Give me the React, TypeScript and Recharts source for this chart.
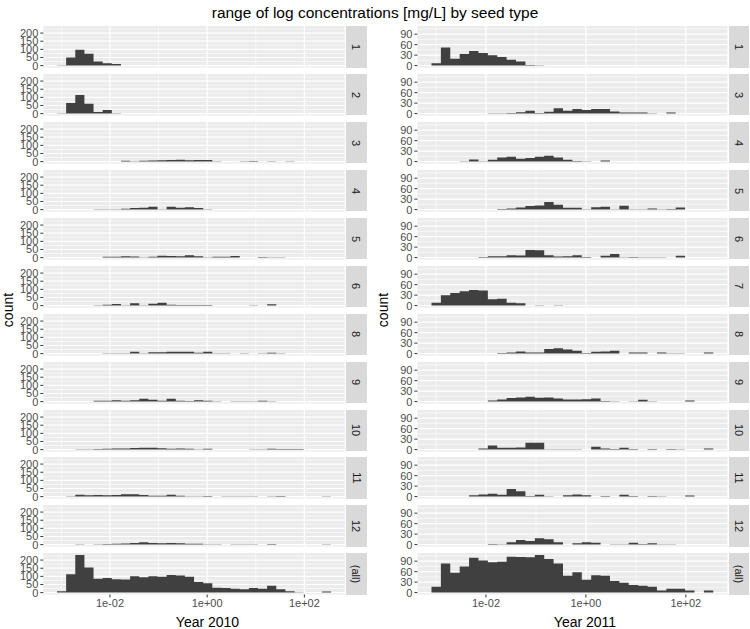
import { AreaChart, Area, XAxis, YAxis, CartesianGrid } from 'recharts';

// histogram bins on log10(mg/L): 30 bins, same for both years
const BIN_START = -3.09;
const BIN_WIDTH = 0.188;
const N_BINS = 30;

const X_MAJOR = [-2, 0, 2];
const X_MINOR = [-3, -1, 1];

// 2010 counts per seed type (bin 0 .. 29)
const C2010_1 = [2, 50, 98, 73, 25, 15, 10, 1, 0, 0, 0, 0, 0, 0, 0, 0, 0, 0, 0, 0, 0, 0, 0, 0, 0, 0, 0, 0, 0, 0];
const C2010_2 = [3, 65, 115, 60, 10, 22, 2, 0, 0, 0, 0, 0, 0, 0, 0, 0, 0, 0, 0, 0, 0, 0, 0, 0, 0, 0, 0, 0, 0, 0];
const C2010_3 = [0, 0, 0, 1, 1, 0, 1, 5, 3, 5, 7, 8, 10, 12, 8, 10, 10, 2, 1, 1, 2, 4, 1, 2, 1, 3, 0, 0, 0, 0];
const C2010_4 = [0, 0, 0, 0, 2, 2, 2, 5, 10, 12, 18, 3, 18, 12, 15, 10, 3, 1, 1, 0, 0, 0, 0, 0, 0, 0, 0, 0, 0, 0];
const C2010_5 = [0, 0, 0, 1, 1, 5, 5, 8, 7, 3, 5, 12, 10, 8, 15, 8, 3, 5, 6, 10, 1, 0, 4, 3, 3, 1, 0, 0, 0, 0];
const C2010_6 = [0, 0, 0, 1, 2, 5, 10, 3, 15, 3, 12, 18, 5, 4, 4, 4, 4, 0, 1, 0, 0, 3, 0, 8, 0, 0, 0, 0, 0, 0];
const C2010_8 = [0, 0, 0, 0, 1, 2, 3, 3, 12, 3, 8, 8, 12, 12, 12, 5, 12, 3, 2, 0, 2, 0, 3, 5, 2, 0, 0, 0, 0, 0];
const C2010_9 = [0, 0, 0, 1, 6, 5, 8, 5, 8, 18, 12, 6, 18, 6, 4, 8, 5, 2, 0, 2, 2, 2, 5, 2, 0, 0, 0, 0, 0, 0];
const C2010_10 = [1, 0, 3, 3, 4, 5, 7, 7, 10, 12, 12, 8, 5, 7, 5, 3, 5, 0, 1, 1, 1, 3, 2, 5, 4, 4, 4, 0, 0, 0];
const C2010_11 = [0, 2, 12, 8, 10, 8, 10, 15, 15, 10, 5, 5, 12, 5, 2, 3, 4, 0, 3, 3, 3, 3, 0, 3, 4, 0, 0, 0, 0, 3];
const C2010_12 = [0, 0, 2, 0, 2, 4, 5, 7, 10, 14, 10, 9, 10, 8, 6, 5, 2, 2, 0, 3, 2, 2, 0, 4, 0, 0, 0, 0, 0, 2];
const C2010_ALL = [8, 113, 232, 155, 85, 90, 82, 80, 100, 95, 100, 98, 108, 105, 98, 65, 58, 30, 28, 24, 20, 28, 24, 42, 20, 8, 2, 0, 0, 7];

// 2011 counts per seed type
const C2011_1 = [7, 52, 20, 33, 42, 36, 30, 25, 17, 12, 2, 1, 0, 0, 0, 0, 0, 0, 0, 0, 0, 0, 0, 0, 0, 0, 0, 0, 0, 0];
const C2011_3 = [0, 0, 0, 0, 0, 0, 1, 1, 2, 4, 8, 2, 5, 15, 8, 13, 10, 13, 13, 6, 3, 3, 3, 1, 0, 3, 0, 0, 0, 0];
const C2011_4 = [0, 0, 0, 1, 6, 1, 5, 12, 14, 8, 10, 14, 17, 12, 5, 2, 1, 0, 3, 0, 0, 0, 0, 0, 0, 0, 0, 0, 0, 0];
const C2011_5 = [0, 0, 0, 0, 0, 0, 0, 2, 3, 6, 10, 12, 22, 14, 5, 5, 1, 7, 8, 1, 11, 1, 1, 3, 1, 2, 6, 0, 0, 0];
const C2011_6 = [0, 0, 0, 0, 0, 2, 4, 4, 7, 6, 22, 21, 7, 3, 4, 7, 2, 0, 5, 10, 1, 2, 1, 1, 1, 0, 5, 0, 0, 0];
const C2011_7 = [8, 30, 36, 41, 45, 43, 18, 20, 8, 7, 0, 1, 0, 1, 0, 0, 0, 0, 0, 0, 0, 0, 0, 0, 0, 0, 0, 0, 0, 0];
const C2011_8 = [0, 0, 0, 0, 0, 0, 0, 2, 3, 6, 3, 3, 13, 15, 12, 8, 2, 5, 6, 8, 0, 3, 3, 0, 3, 1, 1, 0, 0, 3];
const C2011_9 = [0, 0, 0, 0, 0, 0, 3, 6, 10, 12, 14, 11, 12, 9, 6, 6, 7, 9, 2, 1, 0, 1, 5, 1, 0, 0, 0, 3, 0, 0];
const C2011_10 = [0, 0, 0, 0, 0, 3, 12, 5, 5, 6, 20, 20, 1, 1, 1, 1, 0, 8, 3, 2, 5, 2, 0, 2, 0, 2, 1, 0, 0, 3];
const C2011_11 = [0, 0, 0, 0, 4, 6, 8, 5, 22, 15, 2, 5, 1, 0, 4, 6, 4, 0, 2, 0, 5, 2, 0, 2, 1, 0, 0, 3, 0, 0];
const C2011_12 = [0, 0, 0, 0, 0, 0, 2, 1, 7, 13, 10, 18, 15, 7, 0, 4, 7, 5, 0, 1, 1, 5, 2, 4, 1, 1, 0, 0, 0, 0];
const C2011_ALL = [17, 83, 57, 75, 100, 92, 87, 88, 103, 102, 101, 108, 96, 83, 48, 58, 37, 50, 48, 33, 28, 22, 20, 17, 6, 11, 11, 6, 0, 6];

const PANELS_2010 = [
  { seed: '1', counts: C2010_1 },
  { seed: '2', counts: C2010_2 },
  { seed: '3', counts: C2010_3 },
  { seed: '4', counts: C2010_4 },
  { seed: '5', counts: C2010_5 },
  { seed: '6', counts: C2010_6 },
  { seed: '8', counts: C2010_8 },
  { seed: '9', counts: C2010_9 },
  { seed: '10', counts: C2010_10 },
  { seed: '11', counts: C2010_11 },
  { seed: '12', counts: C2010_12 },
  { seed: '(all)', counts: C2010_ALL },
];

const PANELS_2011 = [
  { seed: '1', counts: C2011_1 },
  { seed: '3', counts: C2011_3 },
  { seed: '4', counts: C2011_4 },
  { seed: '5', counts: C2011_5 },
  { seed: '6', counts: C2011_6 },
  { seed: '7', counts: C2011_7 },
  { seed: '8', counts: C2011_8 },
  { seed: '9', counts: C2011_9 },
  { seed: '10', counts: C2011_10 },
  { seed: '11', counts: C2011_11 },
  { seed: '12', counts: C2011_12 },
  { seed: '(all)', counts: C2011_ALL },
];

const Y_MAJOR_2010 = [0, 50, 100, 150, 200];
const Y_MINOR_2010 = [25, 75, 125, 175, 225];
const Y_MAJOR_2011 = [0, 30, 60, 90];
const Y_MINOR_2011 = [15, 45, 75, 105];

const FONT = '"Liberation Sans", Arial, Helvetica, sans-serif';
const PANEL_TOP = 26;
const PANEL_STEP = 47.94;
const PANEL_H = 41.5;
const X_AXIS_H = 18;
const TICK_FONT = 11;

const BIN_EDGES = Array.from({ length: N_BINS + 1 }, (_, i) => BIN_START + i * BIN_WIDTH);
const X_SPAN = N_BINS * BIN_WIDTH;
const X_DOMAIN = [BIN_START - 0.05 * X_SPAN, BIN_START + 1.05 * X_SPAN];

const fmtLog = (v: number) => `1e${v < 0 ? '-' : '+'}${String(Math.abs(v)).padStart(2, '0')}`;

function Panel({ counts, yMax, yMajor, yMinor, showX, yAxisW, plotW }: any) {
  const data = BIN_EDGES.map((x, i) => ({ x, n: counts[Math.min(i, counts.length - 1)] }));
  return (
    <AreaChart
      width={yAxisW + plotW}
      height={PANEL_H + (showX ? X_AXIS_H : 0)}
      data={data}
      margin={{ top: 0, right: 0, bottom: 0, left: 0 }}
      style={{ overflow: 'visible' }}
    >
      <CartesianGrid fill="#EBEBEB" stroke="#FFFFFF" strokeWidth={0.6} horizontalValues={yMinor} verticalValues={X_MINOR} />
      <CartesianGrid stroke="#FFFFFF" strokeWidth={1.2} horizontalValues={yMajor} verticalValues={X_MAJOR} />
      <XAxis
        type="number"
        dataKey="x"
        domain={X_DOMAIN}
        ticks={X_MAJOR}
        tickFormatter={fmtLog}
        hide={!showX}
        height={X_AXIS_H}
        axisLine={false}
        tickSize={3}
        tickMargin={2}
        tickLine={{ stroke: '#333333' }}
        tick={{ fill: '#4D4D4D', fontSize: TICK_FONT, fontFamily: FONT }}
      />
      <YAxis
        type="number"
        domain={[-0.05 * yMax, 1.05 * yMax]}
        ticks={yMajor}
        width={yAxisW}
        axisLine={false}
        tickSize={3}
        tickMargin={2}
        tickLine={{ stroke: '#333333' }}
        tick={{ fill: '#4D4D4D', fontSize: TICK_FONT, fontFamily: FONT }}
        interval={0}
      />
      <Area
        type="stepAfter"
        dataKey="n"
        baseValue={0}
        fill="#404040"
        fillOpacity={1}
        stroke="none"
        isAnimationActive={false}
        dot={false}
        activeDot={false}
      />
    </AreaChart>
  );
}

function Column({ panels, left, yAxisW, plotW, stripX, stripW, yMajor, yMinor, title, titleX, labelX }: any) {
  const yMax = Math.max(...panels.map((p: any) => Math.max(...p.counts)));
  return (
    <>
      {panels.map((p: any, i: number) => {
        const top = PANEL_TOP + i * PANEL_STEP;
        return (
          <div key={p.seed}>
            <div style={{ position: 'absolute', left, top }}>
              <Panel
                counts={p.counts}
                yMax={yMax}
                yMajor={yMajor}
                yMinor={yMinor}
                showX={i === panels.length - 1}
                yAxisW={yAxisW}
                plotW={plotW}
              />
            </div>
            <div
              style={{
                position: 'absolute',
                left: stripX,
                top,
                width: stripW,
                height: PANEL_H,
                background: '#D9D9D9',
                display: 'flex',
                alignItems: 'center',
                justifyContent: 'center',
              }}
            >
              <span style={{ transform: 'rotate(90deg)', whiteSpace: 'nowrap', fontSize: 11, color: '#1A1A1A' }}>
                {p.seed}
              </span>
            </div>
          </div>
        );
      })}
      <div style={{ position: 'absolute', left: titleX - 60, width: 120, top: 614, textAlign: 'center', fontSize: 14 }}>
        {title}
      </div>
      <div
        style={{
          position: 'absolute',
          left: labelX - 30,
          top: 302,
          width: 60,
          textAlign: 'center',
          fontSize: 14,
          transform: 'rotate(-90deg)',
        }}
      >
        count
      </div>
    </>
  );
}

export default function App() {
  return (
    <div
      style={{
        position: 'absolute',
        left: 0,
        top: 0,
        width: 750,
        height: 629,
        background: '#FFFFFF',
        fontFamily: FONT,
        color: '#000000',
        overflow: 'hidden',
      }}
    >
      <style>{'.recharts-surface { overflow: visible; }'}</style>
      <div style={{ position: 'absolute', left: 0, width: 750, top: 4, textAlign: 'center', fontSize: 15.5 }}>
        range of log concentrations [mg/L] by seed type
      </div>
      <Column
        panels={PANELS_2010}
        left={0}
        yAxisW={43.3}
        plotW={301.5}
        stripX={346}
        stripW={21}
        yMajor={Y_MAJOR_2010}
        yMinor={Y_MINOR_2010}
        title="Year 2010"
        titleX={207.5}
        labelX={8}
      />
      <Column
        panels={PANELS_2011}
        left={375}
        yAxisW={42.4}
        plotW={310}
        stripX={729}
        stripW={20}
        yMajor={Y_MAJOR_2011}
        yMinor={Y_MINOR_2011}
        title="Year 2011"
        titleX={585}
        labelX={383}
      />
    </div>
  );
}
